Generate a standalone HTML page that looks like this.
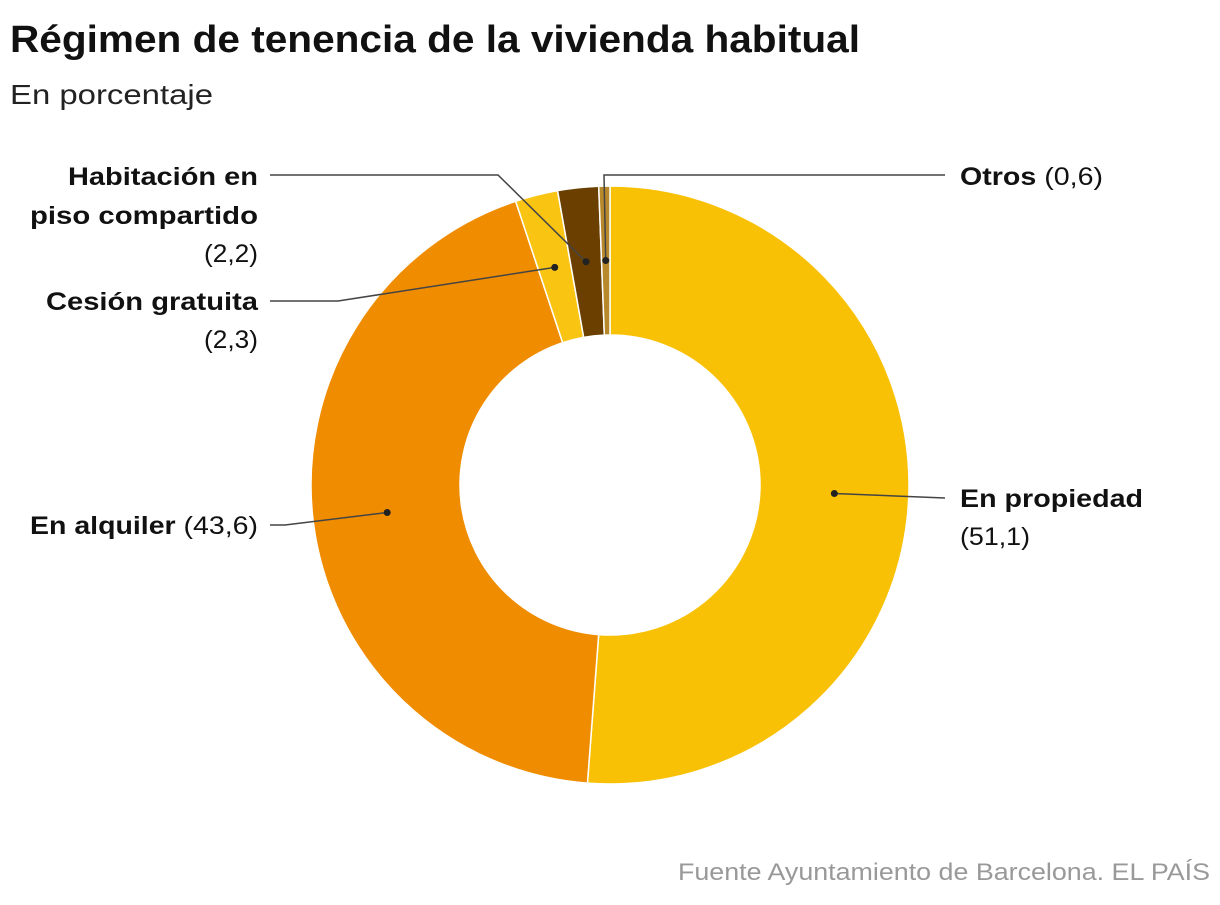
<!DOCTYPE html>
<html><head><meta charset="utf-8">
<style>
body{margin:0;background:#fff;font-family:"Liberation Sans",sans-serif;}
svg text{font-family:"Liberation Sans",sans-serif;}
</style></head>
<body>
<svg width="1220" height="900" viewBox="0 0 1220 900">
<text x="10" y="52" font-size="38" font-weight="bold" fill="#111" textLength="850" lengthAdjust="spacingAndGlyphs">Régimen de tenencia de la vivienda habitual</text>
<text x="10" y="104" font-size="28" fill="#222" textLength="203" lengthAdjust="spacingAndGlyphs">En porcentaje</text>
<g id="slices"></g>
<g id="labels" font-size="25" fill="#111"></g>
<text x="1210" y="880" font-size="24" fill="#999" text-anchor="end" textLength="532" lengthAdjust="spacingAndGlyphs">Fuente Ayuntamiento de Barcelona. EL PAÍS</text>
</svg>
<script>
const categories = ["En propiedad","En alquiler","Cesión gratuita","Habitación en piso compartido","Otros"];
const values = [51.1, 43.6, 2.3, 2.2, 0.6];
const colors = ["#F9C106","#F08C00","#F9C412","#6B3F00","#B8892B"];
const cx=610, cy=485, R=299, r=150;
const total = values.reduce((a,b)=>a+b,0);
const ns="http://www.w3.org/2000/svg";
const angle = v => v/total*2*Math.PI;
const pt = (rad,a)=>[cx+rad*Math.sin(a), cy-rad*Math.cos(a)];
const g=document.getElementById('slices');
let acc=0; const mids=[];
values.forEach((v,i)=>{
  const a0=angle(acc), a1=angle(acc+v); acc+=v;
  mids.push((a0+a1)/2);
  const large=(a1-a0)>Math.PI?1:0;
  const [x0,y0]=pt(R,a0),[x1,y1]=pt(R,a1),[x2,y2]=pt(r,a1),[x3,y3]=pt(r,a0);
  const p=document.createElementNS(ns,'path');
  p.setAttribute('d',`M${x0},${y0} A${R},${R} 0 ${large} 1 ${x1},${y1} L${x2},${y2} A${r},${r} 0 ${large} 0 ${x3},${y3} Z`);
  p.setAttribute('fill',colors[i]);p.setAttribute('stroke','#fff');p.setAttribute('stroke-width','1.5');
  
  
  g.appendChild(p);
});
const L=document.getElementById('labels');
function line(pts){const pl=document.createElementNS(ns,'polyline');pl.setAttribute('points',pts.map(p=>p.join(',')).join(' '));pl.setAttribute('fill','none');pl.setAttribute('stroke','#444');pl.setAttribute('stroke-width','1.5');


L.appendChild(pl);}
function dot(p){const c=document.createElementNS(ns,'circle');c.setAttribute('cx',p[0]);c.setAttribute('cy',p[1]);c.setAttribute('r',3.5);c.setAttribute('fill','#222');


L.appendChild(c);}
function txt(x,y,anchor,parts,name,w){const t=document.createElementNS(ns,'text');t.setAttribute('x',x);t.setAttribute('y',y);t.setAttribute('text-anchor',anchor);
if(w){t.setAttribute('textLength',w);t.setAttribute('lengthAdjust','spacingAndGlyphs');}


parts.forEach(([s,b])=>{const ts=document.createElementNS(ns,'tspan');ts.textContent=s;if(b)ts.setAttribute('font-weight','bold');t.appendChild(ts);});L.appendChild(t);}
const fmt=v=>'('+String(v).replace('.',',')+')';
const d=mids.map(a=>pt((R+r)/2,a));
line([d[0],[945,498]]);dot(d[0]);
txt(960,507,'start',[[categories[0],true]],'label-propiedad',183);
txt(960,545,'start',[[fmt(values[0]),false]],'value-propiedad',70);
line([d[1],[285,525],[270,525]]);dot(d[1]);
txt(258,534,'end',[[categories[1]+' ',true],[fmt(values[1]),false]],'label-alquiler',228);
line([d[2],[338,301],[270,301]]);dot(d[2]);
txt(258,310,'end',[[categories[2],true]],'label-cesion',212);
txt(258,348,'end',[[fmt(values[2]),false]],'value-cesion',54);
line([d[3],[498,175],[270,175]]);dot(d[3]);
txt(258,185,'end',[["Habitación en",true]],'label-habitacion-1',190);
txt(258,224,'end',[["piso compartido",true]],'label-habitacion-2',228);
txt(258,262,'end',[[fmt(values[3]),false]],'value-habitacion',54);
line([d[4],[604,175],[945,175]]);dot(d[4]);
txt(960,185,'start',[[categories[4]+' ',true],[fmt(values[4]),false]],'label-otros',143);
</script>
</body></html>
